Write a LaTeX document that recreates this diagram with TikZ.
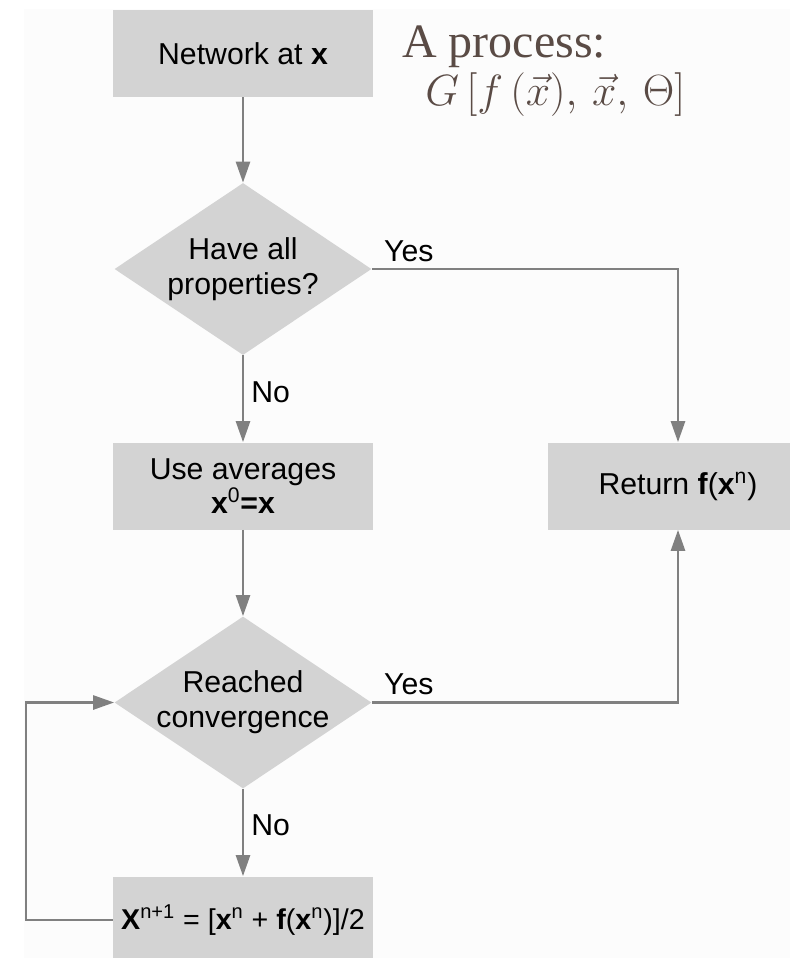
\documentclass[tikz,border=0pt]{standalone}
\usepackage{fontspec}
\setmainfont{Liberation Sans}
\newfontfamily\titlefont{Liberation Serif}
\usetikzlibrary{shapes.geometric,arrows.meta}
\definecolor{boxgray}{HTML}{D3D3D3}
\definecolor{linegray}{HTML}{808080}
\definecolor{panelgray}{HTML}{FCFCFC}
\definecolor{titlebrown}{HTML}{5A4B45}
\newcommand{\nodefont}{\fontsize{17.2pt}{19.8pt}\selectfont}
\begin{document}
\begin{tikzpicture}[
		block/.style = {
			rectangle,
			fill = boxgray,
			minimum width = 5.2cm,
			minimum height = 1.74cm,
			inner sep = 0pt,
			align = center,
			font = \nodefont
		},
		decision/.style = {
			diamond,
			fill = boxgray,
			minimum width = 5.14cm,
			minimum height = 3.44cm,
			aspect = 1.5,
			inner xsep = -3mm,
			inner ysep = 0pt,
			align = center,
			font = \nodefont
		},
		flow/.style = {
			draw = linegray,
			line width = 1.5pt,
			-{Triangle[length=0.42cm, width=0.28cm]}
		},
		yeslbl/.style = {
			pos = 0,
			anchor = south west,
			inner sep = 0pt,
			xshift = 0.22cm,
			yshift = 0.12cm,
			font = \nodefont
		},
		nolbl/.style = {
			pos = 0.42,
			anchor = west,
			inner sep = 0pt,
			xshift = 0.14cm,
			font = \nodefont
		},
		title/.style = {
			anchor = base west,
			inner sep = 0pt,
			text = titlebrown
		}
	]
	\useasboundingbox (0,0) rectangle (15.8,-19.16);
	\fill[panelgray] (0.48,-0.18) rectangle (15.8,-19.16);
	\node[block]    (net)   at (4.86,-1.07)  {Network at \textbf{x}};
	\node[decision] (props) at (4.86,-5.38)  {Have all\\properties?};
	\node[block]    (avg)   at (4.86,-9.72)  {Use averages\\\textbf{x}\textsuperscript{0}\textbf{=x}};
	\node[block]    (ret)   at (13.56,-9.72) {Return \textbf{f}(\textbf{x}\textsuperscript{n})};
	\node[decision] (conv)  at (4.86,-14.05) {Reached\\convergence};
	\node[block, font=\fontsize{16.3pt}{19pt}\selectfont] (upd) at (4.86,-18.4) {\textbf{X}\textsuperscript{n+1} = [\textbf{x}\textsuperscript{n} + \textbf{f}(\textbf{x}\textsuperscript{n})]/2};
	\coordinate (back) at (0.52,-18.4);
	\node[title, font=\titlefont\fontsize{27.3pt}{30pt}\selectfont] (heading) at (8.04,-1.14) {A process:};
	\node[title, font=\fontsize{24.5pt}{28pt}\selectfont] (formula) at (8.5,-2.1) {$G\,[f\,(\vec{x}),\,\vec{x},\,\Theta]$};
	\draw[flow] (net) -- (props);
	\draw[flow] (props) -- node[nolbl] {No} (avg);
	\draw[flow] (props) -| node[yeslbl] {Yes} (ret);
	\draw[flow] (avg) -- (conv);
	\draw[flow] (conv) -- node[nolbl] {No} (upd);
	\draw[flow] (conv) -| node[yeslbl] {Yes} (ret);
	\draw[flow] (upd) -- (back) |- (conv);
\end{tikzpicture}
\end{document}
